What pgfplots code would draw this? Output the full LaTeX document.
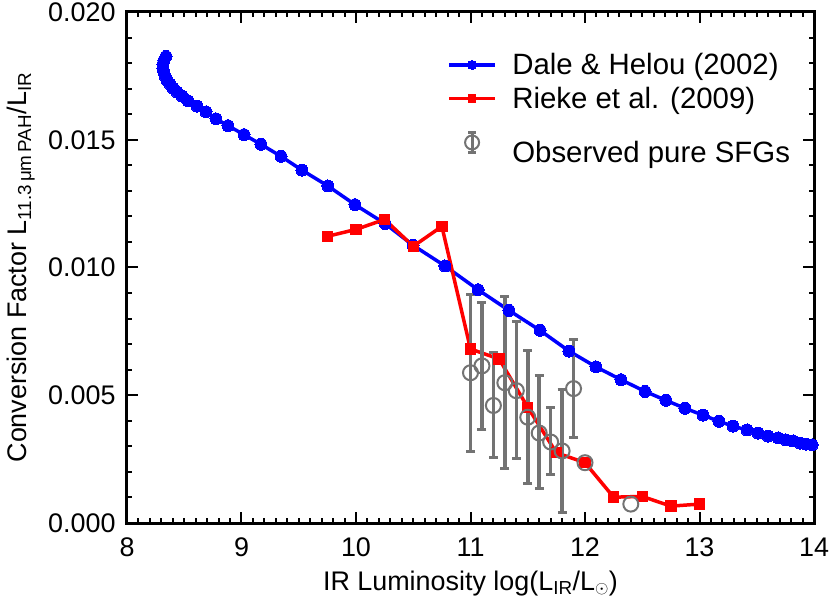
\documentclass[border=0pt]{standalone}
\usepackage{fontspec}
\setmainfont{Liberation Sans}
\usepackage{pgfplots}
\pgfplotsset{compat=1.18}
\definecolor{obsgray}{RGB}{115,115,115}
\newcommand{\fs}{\fontsize{27}{32}\selectfont}
\newcommand{\fl}{\fontsize{27}{32}\selectfont}
\newcommand{\fg}{\fontsize{29.5}{35}\selectfont}
\begin{document}
\begin{tikzpicture}
\begin{axis}[
  name=ax,
  scale only axis, width=687bp, height=511bp,
  xmin=8, xmax=14, ymin=0, ymax=0.02,
  xtick={8,9,10,11,12,13,14},
  ytick={0,0.005,0.01,0.015,0.02},
  minor x tick num=9, minor y tick num=4,
  tick align=inside,
  major tick length=11bp, minor tick length=5bp,
  every tick/.style={black, line width=2bp},
  axis line style={line width=3bp},
  scaled y ticks=false,
  /pgf/number format/assume math mode=true,
  tick label style={font=\fs},
  xticklabel style={yshift=-11bp},
  yticklabel style={xshift=-8bp, /pgf/number format/fixed, /pgf/number format/fixed zerofill, /pgf/number format/precision=3},
  xlabel={IR Luminosity log(L\textsubscript{IR}/L\textsubscript{$\odot$})},
  ylabel={Conversion Factor L\textsubscript{11.3\,μm\,PAH}/L\textsubscript{IR}},
  every axis x label/.style={at={(axis description cs:0.5,0)}, anchor=base, yshift=-67bp, font=\fl},
  every axis y label/.style={at={(axis description cs:-0.1543,0.5)}, rotate=90, anchor=center, font=\fl},
  legend style={font=\fg, at={(0.466,0.922)}, anchor=north west, draw=none, fill=none,
    inner sep=0bp, row sep=8bp,
    nodes={inner sep=1.5bp},
    /tikz/every odd column/.append style={column sep=14bp}},
  legend cell align=left,
  legend image code/.code={\draw[#1,mark repeat=2,mark phase=2,every mark/.append style={scale=0.75}]
     plot coordinates {(0bp,0bp)(23bp,0bp)(46bp,0bp)};},
]
% Dale & Helou (2002)
\addplot[blue, line width=3.5bp, mark=*, mark size=6bp, mark options={fill=blue, draw=blue, line width=0bp}] coordinates {
(8.341,0.01826) (8.323,0.01810) (8.314,0.01795) (8.314,0.01780) (8.323,0.01764)
(8.332,0.01749) (8.349,0.01733) (8.376,0.01718) (8.402,0.01702) (8.437,0.01687)
(8.480,0.01671) (8.533,0.01652) (8.611,0.01632) (8.690,0.01609) (8.777,0.01582)
(8.882,0.01555) (9.022,0.01520) (9.170,0.01482) (9.345,0.01435) (9.528,0.01381)
(9.755,0.01319) (9.991,0.01246) (10.253,0.01172) (10.498,0.01087) (10.777,0.01006)
(11.066,0.00913) (11.336,0.00832) (11.607,0.00754) (11.860,0.00673) (12.096,0.00611)
(12.314,0.00561) (12.524,0.00515) (12.707,0.00480) (12.873,0.00449) (13.031,0.00422)
(13.170,0.00398) (13.293,0.00379) (13.415,0.00364) (13.511,0.00352) (13.598,0.00340)
(13.686,0.00333) (13.755,0.00325) (13.817,0.00321) (13.878,0.00313) (13.930,0.00309)
(13.983,0.00306)
};
\addlegendentry{Dale \& Helou (2002)}
% Rieke et al. (2009)
\addplot[red, line width=3.5bp, mark=square*, mark size=5.2bp, mark options={fill=red, draw=red, line width=0bp}] coordinates {
(9.75,0.01122) (10.0,0.01149) (10.25,0.01188) (10.5,0.01083) (10.75,0.01161)
(11.0,0.00681) (11.25,0.00642) (11.5,0.00453) (11.75,0.00275) (12.0,0.00236)
(12.25,0.00101) (12.5,0.00104) (12.75,0.00066) (13.0,0.00074)
};
\addlegendentry{Rieke et al. (2009)}
% Observed pure SFGs
\addplot[only marks, obsgray, mark=o, mark size=7.5bp, mark options={line width=2bp, draw=obsgray},
  legend image code/.code={
    \draw[obsgray, line width=3bp] (23bp,-10bp) -- (23bp,10bp);
    \draw[obsgray, line width=3bp] (19bp,-10bp) -- (27bp,-10bp);
    \draw[obsgray, line width=3bp] (19bp,10bp) -- (27bp,10bp);
    \draw[obsgray, line width=2bp] (23bp,0bp) circle (7bp);},
  error bars/.cd, y dir=both, y explicit,
  error bar style={line width=3.5bp, obsgray},
  error mark options={rotate=90, mark size=4.5bp, line width=3bp, obsgray}] coordinates {
(11.0,0.00588) += (0,0.00306) -= (0,0.00309)
(11.1,0.00615) += (0,0.00248) -= (0,0.00251)
(11.2,0.00460) += (0,0.00209) -= (0,0.00205)
(11.3,0.00549) += (0,0.00337) -= (0,0.00336)
(11.4,0.00518) += (0,0.00271) -= (0,0.00267)
(11.5,0.00414) += (0,0.00263) -= (0,0.00259)
(11.6,0.00352) += (0,0.00224) -= (0,0.00217)
(11.7,0.00317) += (0,0.00136) -= (0,0.00127)
(11.8,0.00282) += (0,0.00240) -= (0,0.00239)
(11.9,0.00526) += (0,0.00194) -= (0,0.00193)
};
\addlegendentry{\rule{0pt}{1.4em}Observed pure SFGs}
\addplot[only marks, obsgray, mark=o, mark size=7.5bp, mark options={line width=2bp, draw=obsgray}, forget plot] coordinates {
(12.0,0.00236) (12.4,0.00074)
};
\end{axis}
\pgfresetboundingbox
\path[use as bounding box] ([xshift=-127bp,yshift=-78bp]ax.south west) rectangle ([xshift=16bp,yshift=12bp]ax.north east);
\end{tikzpicture}
\end{document}
